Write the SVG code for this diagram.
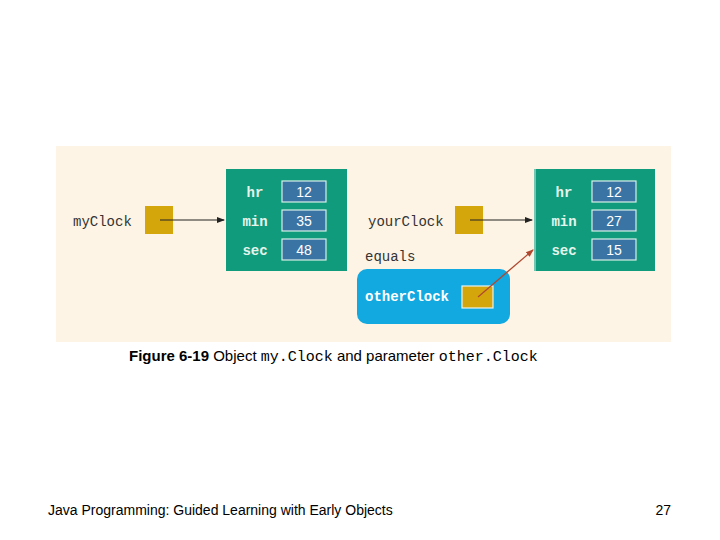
<svg xmlns="http://www.w3.org/2000/svg" width="720" height="540" viewBox="0 0 720 540">
<style>
.obj{fill:#109c7c}
.fld{fill:#3a74a4;stroke:#d8efe8;stroke-width:1.2}
.ref{fill:#d4a60c}
.m{font-family:"Liberation Mono",monospace;font-size:14px}
.w{fill:#ffffff}
.lbl{fill:#e6f4ec;font-family:"Liberation Mono",monospace;font-size:14px;font-weight:bold}
.val{fill:#ffffff;font-family:"Liberation Sans",sans-serif;font-size:14px;text-anchor:middle}
.s{font-family:"Liberation Sans",Arial,sans-serif}
</style>
<defs>
<marker id="ah" markerWidth="8" markerHeight="8" refX="7" refY="4" orient="auto" markerUnits="userSpaceOnUse"><path d="M0,1 L8,4 L0,7 Z" fill="#222"/></marker>
<marker id="ahr" markerWidth="8" markerHeight="8" refX="7" refY="4" orient="auto" markerUnits="userSpaceOnUse"><path d="M0,1 L8,4 L0,7 Z" fill="#b04830"/></marker>
</defs>
<rect x="56" y="146" width="615" height="196" fill="#fdf4e5"/>
<g id="myClockObj">
<rect class="obj" x="226" y="169" width="121" height="102"/>
<text class="lbl" x="255" y="197" text-anchor="middle">hr</text>
<text class="lbl" x="255" y="226" text-anchor="middle">min</text>
<text class="lbl" x="255" y="255" text-anchor="middle">sec</text>
<rect class="fld" x="282" y="181" width="44" height="21"/><text class="val" x="304" y="197">12</text>
<rect class="fld" x="282" y="210" width="44" height="21"/><text class="val" x="304" y="226">35</text>
<rect class="fld" x="282" y="239" width="44" height="21"/><text class="val" x="304" y="255">48</text>
</g>
<g id="yourClockObj">
<rect class="obj" x="534" y="169" width="121" height="102"/>
<line x1="535" y1="169" x2="535" y2="271" stroke="#d8efe8" stroke-width="1"/>
<text class="lbl" x="564" y="197" text-anchor="middle">hr</text>
<text class="lbl" x="564" y="226" text-anchor="middle">min</text>
<text class="lbl" x="564" y="255" text-anchor="middle">sec</text>
<rect class="fld" x="592" y="181" width="44" height="21"/><text class="val" x="614" y="197">12</text>
<rect class="fld" x="592" y="210" width="44" height="21"/><text class="val" x="614" y="226">27</text>
<rect class="fld" x="592" y="239" width="44" height="21"/><text class="val" x="614" y="255">15</text>
</g>
<g id="myClock">
<text class="m" x="73" y="226" fill="#333">myClock</text>
<rect class="ref" x="145" y="206" width="28" height="28"/>
</g>
<g id="yourClock">
<text class="m" x="368" y="226" fill="#333">yourClock</text>
<rect class="ref" x="455" y="206" width="28" height="28"/>
</g>
<g id="equals">
<text class="m" x="365" y="261" fill="#333">equals</text>
<rect x="357" y="269" width="153" height="55" rx="10" fill="#12a8e0"/>
<text class="m w" x="365" y="301" font-weight="bold">otherClock</text>
<rect class="ref" x="462" y="286" width="31" height="22" stroke="#e8f4f0" stroke-width="1.2"/>
</g>
<g id="connectors">
<line x1="160" y1="220" x2="224" y2="220" stroke="#222" stroke-width="1.2" marker-end="url(#ah)"/>
<line x1="470" y1="220" x2="532" y2="220" stroke="#222" stroke-width="1.2" marker-end="url(#ah)"/>
<line x1="478" y1="297" x2="533" y2="250" stroke="#b04830" stroke-width="1.2" marker-end="url(#ahr)"/>
</g>
<text class="s" x="129" y="361" font-size="15"><tspan font-weight="bold">Figure 6-19</tspan> Object <tspan font-family="Liberation Mono,monospace">my.Clock</tspan> and parameter <tspan font-family="Liberation Mono,monospace">other.Clock</tspan></text>
<text class="s" x="48" y="515" font-size="14">Java Programming: Guided Learning with Early Objects</text>
<text class="s" x="671" y="515" font-size="14" text-anchor="end">27</text>
</svg>
